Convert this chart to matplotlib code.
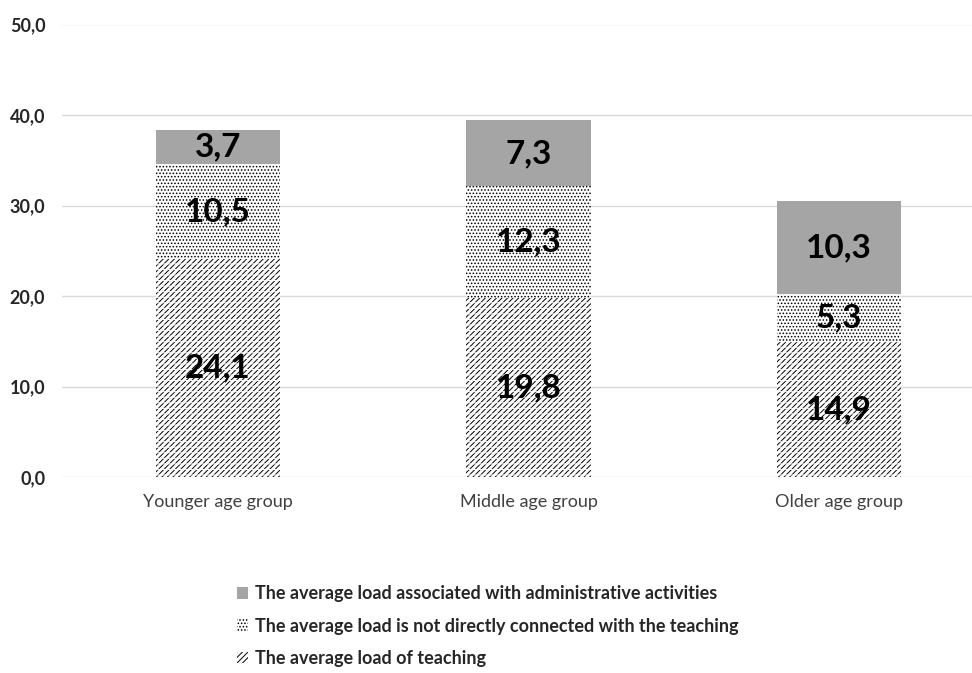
import numpy as np
import matplotlib.pyplot as plt
from matplotlib.ticker import FuncFormatter

plt.rcParams['font.family'] = ['Lato', 'DejaVu Sans']
plt.rcParams['hatch.linewidth'] = 0.7

groups = ['Younger age group', 'Middle age group', 'Older age group']
teaching = [24.1, 19.8, 14.9]
not_direct = [10.5, 12.3, 5.3]
admin = [3.7, 7.3, 10.3]

lbl_admin = 'The average load associated with administrative activities'
lbl_not_direct = 'The average load is not directly connected with the teaching'
lbl_teaching = 'The average load of teaching'

fig = plt.figure(figsize=(9.72, 6.73), dpi=100)
ax = fig.add_axes([62 / 972, 1 - 477 / 673, 1 - 62 / 972, (477 - 24.5) / 673])

x = np.arange(len(groups))
w = 0.4
teach = np.array(teaching)
nd = np.array(not_direct)
adm = np.array(admin)

# teaching: diagonal dashes in rows
b1 = ax.bar(x, teach, w, color='white', edgecolor='black', hatch='//////',
            linewidth=0, label=lbl_teaching, zorder=2)
ax.bar(x, teach, w, color='none', edgecolor='white', hatch='---',
       linewidth=0, zorder=3)
# not directly connected: dots
b2 = ax.bar(x, nd, w, bottom=teach, color='white', edgecolor='black',
            hatch='.....', linewidth=0, label=lbl_not_direct, zorder=2)
b3 = ax.bar(x, adm, w, bottom=teach + nd, color='#A5A5A5', linewidth=0,
            label=lbl_admin, zorder=2)

for bottoms, vals in [(np.zeros(3), teach), (teach, nd), (teach + nd, adm)]:
    for xi, b, v in zip(x, bottoms, vals):
        ax.text(xi, b + v / 2, f'{v:.1f}'.replace('.', ','), ha='center',
                va='center', fontsize=24, fontweight='bold', color='black',
                zorder=5)

ax.set_xlim(-0.502, 2.428)
ax.set_ylim(0, 50)
ax.set_yticks(np.arange(0, 51, 10))
ax.yaxis.set_major_formatter(FuncFormatter(lambda v, p: f'{v:.1f}'.replace('.', ',')))
ax.set_xticks(x)
ax.set_xticklabels(groups, fontsize=13, color='#404040')
for t in ax.get_yticklabels():
    t.set_fontweight('bold')
    t.set_fontsize(13)
    t.set_color('#262626')
ax.tick_params(length=0, axis='y', pad=12)
ax.tick_params(length=0, axis='x', pad=12)
ax.grid(axis='y', color='#D9D9D9', linewidth=1, zorder=0)
ax.set_axisbelow(True)
for s in ax.spines.values():
    s.set_visible(False)

leg = fig.legend(handles=[b3, b2, b1], loc='upper left',
                 bbox_to_anchor=(230 / 972, 1 - 578 / 673), frameon=False,
                 prop={'weight': 'bold', 'size': 13}, labelspacing=0.85,
                 handlelength=0.6, handleheight=0.6, handletextpad=0.4,
                 borderaxespad=0)
for t in leg.get_texts():
    t.set_color('#262626')

fig.savefig('out.png', dpi=100)
